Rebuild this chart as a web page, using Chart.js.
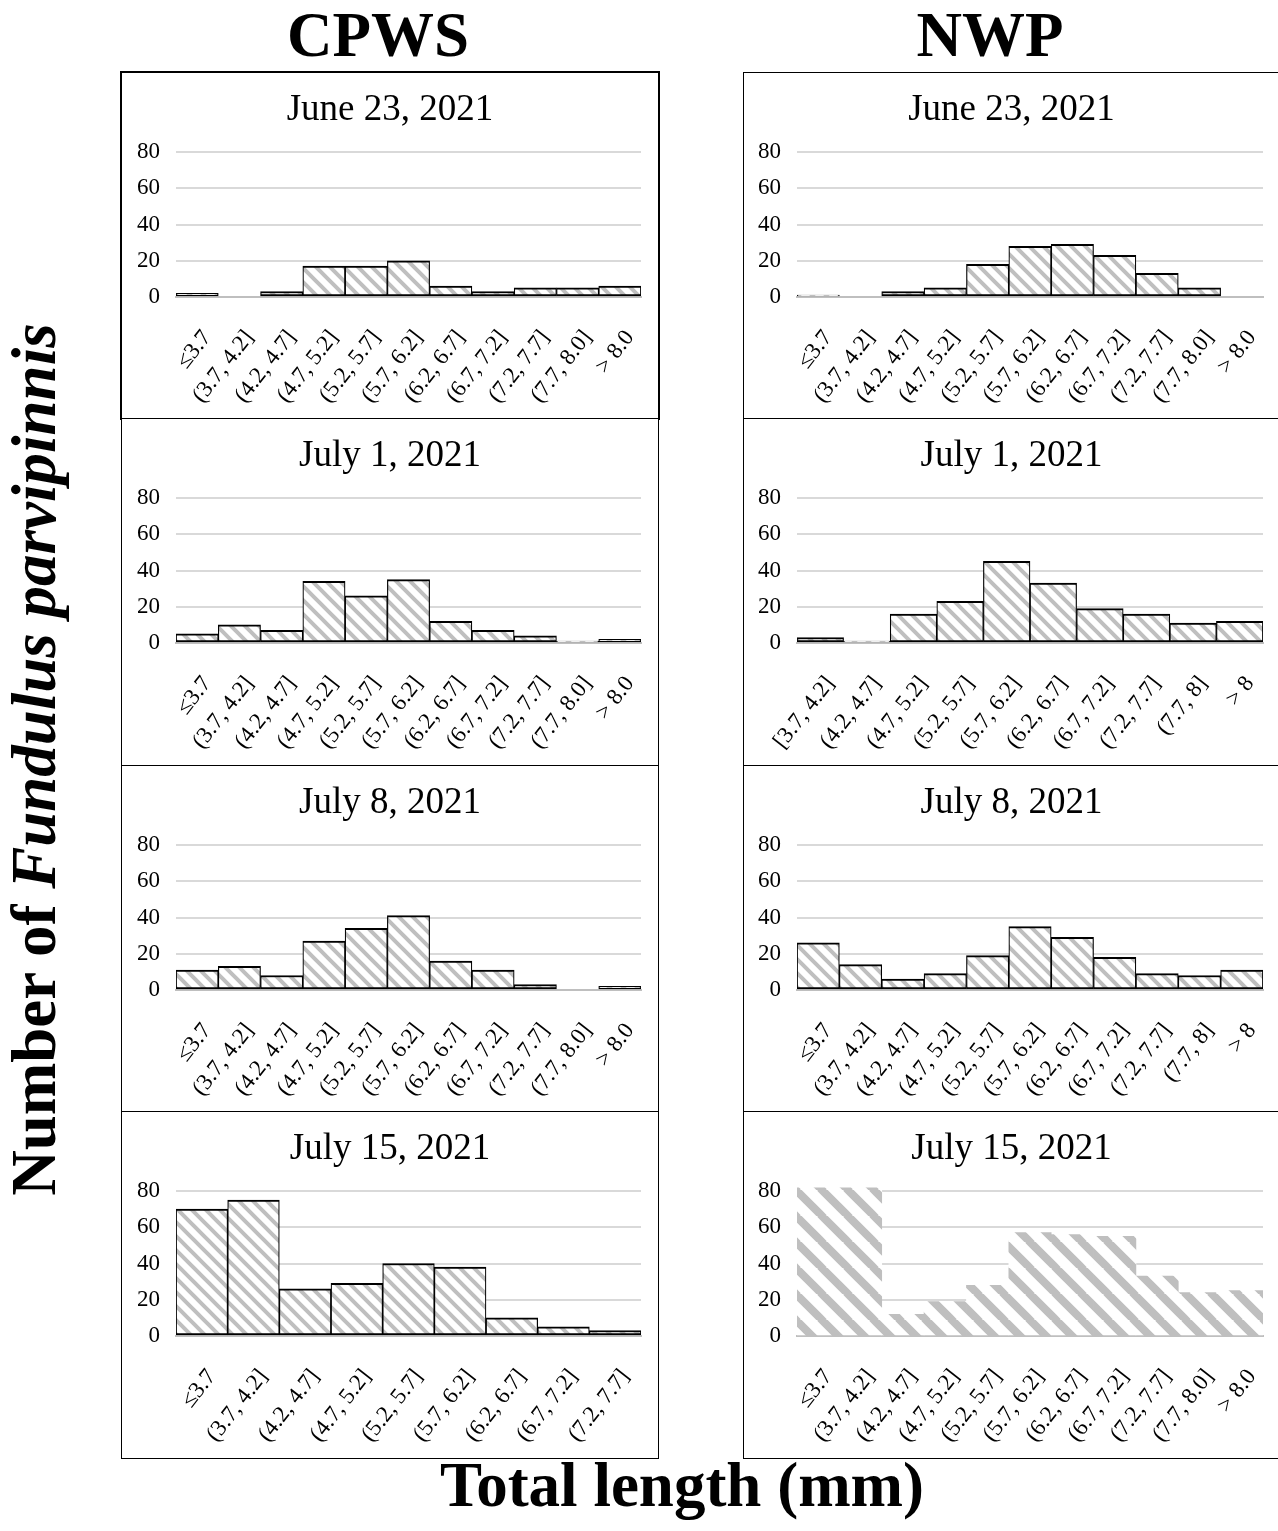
<!DOCTYPE html>
<html>
<head>
<meta charset="utf-8">
<script src="https://cdn.jsdelivr.net/npm/chart.js@4.4.0/dist/chart.umd.min.js"></script>
<style>
  html, body { margin: 0; padding: 0; background: #fff; }
  body { width: 1278px; height: 1531px; position: relative; overflow: hidden;
         font-family: 'Liberation Serif', 'Times New Roman', serif; color: #000; }
  .panel { position: absolute; box-sizing: border-box; border: 1px solid #000; background: #fff; }
  .panel canvas { display: block; }
  .big { position: absolute; font-weight: bold; font-size: 63px; line-height: 63px;
         white-space: nowrap; text-align: center; }
</style>
</head>
<body>
<div class="big" style="left:228px; top:4px; width:300px;">CPWS</div>
<div class="big" style="left:840px; top:4px; width:300px;">NWP</div>
<div class="big" style="left:232px; top:1454px; width:900px;">Total length (mm)</div>
<div class="big" style="left:-466px; top:728px; width:1000px; transform: rotate(-90deg);">Number of <i>Fundulus parvipinnis</i></div>

<script>
// bins (x categories)
const binsStd = ['≤3.7', '(3.7, 4.2]', '(4.2, 4.7]', '(4.7, 5.2]', '(5.2, 5.7]', '(5.7, 6.2]',
                 '(6.2, 6.7]', '(6.7, 7.2]', '(7.2, 7.7]', '(7.7, 8.0]', '> 8.0'];
const binsNwpJul1 = ['[3.7, 4.2]', '(4.2, 4.7]', '(4.7, 5.2]', '(5.2, 5.7]', '(5.7, 6.2]',
                     '(6.2, 6.7]', '(6.7, 7.2]', '(7.2, 7.7]', '(7.7, 8]', '> 8'];
const binsNwpJul8 = ['≤3.7', '(3.7, 4.2]', '(4.2, 4.7]', '(4.7, 5.2]', '(5.2, 5.7]', '(5.7, 6.2]',
                     '(6.2, 6.7]', '(6.7, 7.2]', '(7.2, 7.7]', '(7.7, 8]', '> 8'];
const binsCpwsJul15 = ['≤3.7', '(3.7, 4.2]', '(4.2, 4.7]', '(4.7, 5.2]', '(5.2, 5.7]',
                       '(5.7, 6.2]', '(6.2, 6.7]', '(6.7, 7.2]', '(7.2, 7.7]'];

// counts
const cpwsJun23 = [2, 0, 3, 17, 17, 20, 6, 3, 5, 5, 6];
const nwpJun23  = [1, 0, 3, 5, 18, 28, 29, 23, 13, 5, 0];
const cpwsJul1  = [5, 10, 7, 34, 26, 35, 12, 7, 4, 1, 2];
const nwpJul1   = [3, 1, 16, 23, 45, 33, 19, 16, 11, 12];
const cpwsJul8  = [11, 13, 8, 27, 34, 41, 16, 11, 3, 0, 2];
const nwpJul8   = [26, 14, 6, 9, 19, 35, 29, 18, 9, 8, 11];
const cpwsJul15 = [70, 75, 26, 29, 40, 38, 10, 5, 3];
const nwpJul15  = [85, 85, 12, 19, 28, 57, 56, 55, 33, 24, 25]; // first two run off the top

const dates = ['June 23, 2021', 'July 1, 2021', 'July 8, 2021', 'July 15, 2021'];
const yStep = 20;
const yMax = 80;

const panels = [
  { col: 0, row: 0, labels: binsStd,       values: cpwsJun23 },
  { col: 1, row: 0, labels: binsStd,       values: nwpJun23 },
  { col: 0, row: 1, labels: binsStd,       values: cpwsJul1 },
  { col: 1, row: 1, labels: binsNwpJul1,   values: nwpJul1 },
  { col: 0, row: 2, labels: binsStd,       values: cpwsJul8 },
  { col: 1, row: 2, labels: binsNwpJul8,   values: nwpJul8 },
  { col: 0, row: 3, labels: binsCpwsJul15, values: cpwsJul15 },
  { col: 1, row: 3, labels: binsStd,       values: nwpJul15, top: 82, plain: true }
];

// diagonal hatch fill
function hatch(size, lw) {
  const c = document.createElement('canvas');
  c.width = size; c.height = size;
  const g = c.getContext('2d');
  g.fillStyle = '#fff';
  g.fillRect(0, 0, size, size);
  g.strokeStyle = '#bfbfbf';
  g.lineWidth = lw;
  g.beginPath();
  for (const o of [-size, 0, size]) {
    g.moveTo(o - 2, -2);
    g.lineTo(o + size + 2, size + 2);
  }
  g.stroke();
  return g.createPattern(c, 'repeat');
}

const lefts = [121, 743];
const widths = [538, 537];
const tops = [72, 418, 765, 1111];
const heights = [347, 348, 347, 348];
const pxPerUnit = 145 / 80;
const serif = 'Liberation Serif';

panels.forEach(function (p, i) {
  const box = document.createElement('div');
  box.className = 'panel';
  box.style.left = lefts[p.col] + 'px';
  box.style.top = tops[p.row] + 'px';
  box.style.width = widths[p.col] + 'px';
  box.style.height = heights[p.row] + 'px';
  if (i === 0) box.style.outline = '1px solid #000';
  const cv = document.createElement('canvas');
  const w = widths[p.col] - 2, h = heights[p.row] - 2;
  cv.width = w; cv.height = h;
  box.appendChild(cv);
  document.body.appendChild(box);

  const top = p.top || yMax;
  const areaTop = 79 - (top - yMax) * pxPerUnit;
  const areaBottom = 224;
  const yAxisW = p.col === 0 ? 54 : 53;
  const padRight = p.col === 0 ? 17 : 16;

  new Chart(cv.getContext('2d'), {
    type: 'bar',
    data: {
      labels: p.labels,
      datasets: [{
        data: p.values,
        backgroundColor: p.plain ? hatch(26, 8) : hatch(14, 4),
        borderColor: '#000',
        borderWidth: p.plain ? 0 : { top: 2, bottom: 2, left: 1.2, right: 1.2 },
        borderSkipped: false,
        barPercentage: 1,
        categoryPercentage: 1,
        clip: 0
      }]
    },
    options: {
      responsive: false,
      animation: false,
      layout: { padding: 0 },
      plugins: {
        legend: { display: false },
        tooltip: { enabled: false },
        title: {
          display: true,
          text: dates[p.row],
          color: '#000',
          font: { family: serif, size: 37, weight: 'normal', lineHeight: 1.2 },
          padding: { top: 14.8, bottom: areaTop - 14.8 - 44.4 }
        }
      },
      scales: {
        x: {
          grid: { display: false, drawTicks: false },
          border: { display: true, color: '#bfbfbf', width: 2 },
          ticks: {
            color: '#000',
            font: { family: serif, size: 23 },
            minRotation: 52,
            maxRotation: 52,
            autoSkip: false,
            padding: 28,
            labelOffset: 10
          },
          afterFit: function (s) {
            s.height = h - areaBottom;
            s.paddingLeft = 0;
            s.paddingRight = 0;
          }
        },
        y: {
          min: 0,
          max: top,
          grid: { color: '#d9d9d9', lineWidth: 2, drawTicks: false },
          border: { display: false },
          ticks: {
            stepSize: yStep,
            includeBounds: false,
            color: '#000',
            font: { family: serif, size: 23 },
            padding: 16
          },
          afterFit: function (s) {
            s.width = yAxisW;
            s.paddingTop = 0;
            s.paddingBottom = 0;
          }
        },
        // empty right-hand spacer so the title stays centred on the panel
        spacer: {
          type: 'linear',
          position: 'right',
          grid: { display: false, drawTicks: false },
          border: { display: false },
          ticks: { display: false },
          afterFit: function (s) {
            s.width = padRight;
            s.paddingTop = 0;
            s.paddingBottom = 0;
          }
        }
      }
    }
  });
});
</script>
</body>
</html>
